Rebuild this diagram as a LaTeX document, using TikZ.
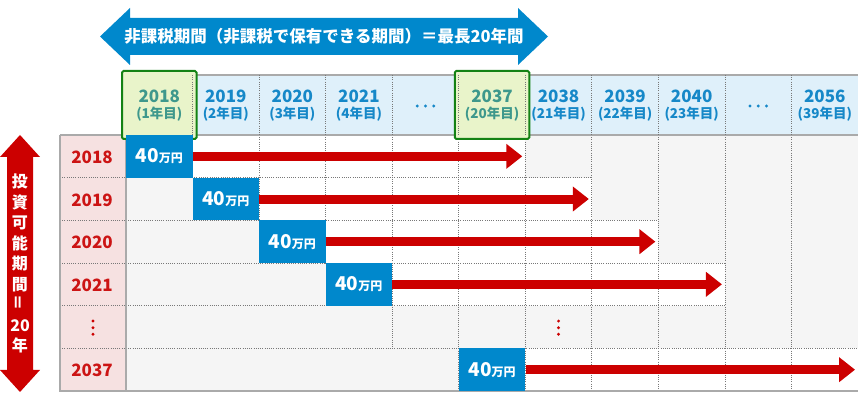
\documentclass[tikz,border=0pt]{standalone}
\usepackage{fontspec}
\setmainfont{Noto Sans CJK JP}
\usetikzlibrary{arrows.meta,positioning}

\definecolor{hdblue}{RGB}{223,240,250}
\definecolor{hdtext}{RGB}{22,136,200}
\definecolor{hlfill}{RGB}{233,244,202}
\definecolor{hlline}{RGB}{20,130,20}
\definecolor{hltext}{RGB}{62,152,140}
\definecolor{lbfill}{RGB}{246,225,225}
\definecolor{lbtext}{RGB}{204,20,20}
\definecolor{cellgrey}{RGB}{245,245,245}
\definecolor{boxblue}{RGB}{0,136,204}
\definecolor{arrred}{RGB}{204,0,0}
\definecolor{dotgrey}{RGB}{120,120,120}
\definecolor{rimgrey}{RGB}{170,170,170}

\newcommand\colw{66.55}
\newcommand\rowh{42.67}

\begin{document}
\begin{tikzpicture}[x=1pt,y=-1pt,
  hdyear/.style={inner sep=0pt,font=\bfseries\fontsize{17}{18}\selectfont},
  hdsub/.style={inner sep=0pt,font=\bfseries\fontsize{13.5}{15}\selectfont},
  hlbox/.style={draw=hlline,line width=2pt,fill=hlfill,rounded corners=1.5pt},
  yrlabel/.style={text=lbtext,inner sep=0pt,font=\bfseries\fontsize{17}{18}\selectfont},
  sepline/.style={dotgrey,line width=0.9pt,dash pattern=on 1pt off 1.2pt},
  rim/.style={rimgrey,line width=1.3pt},
  money/.style={fill=boxblue,text=white,inner sep=0pt,minimum width=\colw pt,minimum height=\rowh pt,font=\bfseries},
  flow/.style={arrred,line width=9pt,-{Triangle[length=16pt,width=24pt]}}]
\useasboundingbox (0,0) rectangle (860,395);

% table background
\fill[hdblue] (126,75) rectangle (858,135);
\fill[lbfill] (60,135) rectangle (126,391);
\fill[cellgrey] (126,135) rectangle (858,391);
\foreach \r/\s/\e in {0/0/6,1/1/7,2/2/8,3/3/9,5/5/11}
  \fill[white] (126+\s*\colw,135+\r*\rowh) rectangle (126+\e*\colw,135+\r*\rowh+\rowh);

% grid
\foreach \k/\b in {1/1,2/2,3/3,4/5,5/6,6/6,7/6,8/6,9/6,10/6}
  \draw[sepline] (126+\k*\colw,135) -- (126+\k*\colw,135+\b*\rowh);
\foreach \r/\e in {1/7,2/8,3/9,4/9,5/11}
  \draw[sepline] (60,135+\r*\rowh) -- (126+\e*\colw,135+\r*\rowh);
\draw[rim] (126,75) -- (858,75);
\draw[rim] (60,135) -- (858,135);
\draw[rim] (60,135) -- (60,391) -- (858,391);
\draw[rim] (126,135) -- (126,391);
\foreach \k in {0,5}
  \draw[hlbox] (122+\k*\colw,71) rectangle (130+\k*\colw+\colw,139);
\foreach \k in {1,...,10}
  \draw[sepline] (126+\k*\colw,75) -- (126+\k*\colw,135);

% header
\foreach \k/\yr/\n/\c in {0/2018/1/hltext,1/2019/2/hdtext,2/2020/3/hdtext,3/2021/4/hdtext,
    5/2037/20/hltext,6/2038/21/hdtext,7/2039/22/hdtext,8/2040/23/hdtext,10/2056/39/hdtext} {
  \node[hdyear,text=\c] (hd\k) at (126+\k*\colw+\colw/2,96) {\yr};
  \node[hdsub,text=\c] (sub\k) at (126+\k*\colw+\colw/2,114) {(\n{}年目)};
}
\foreach \k in {4,9}
  \foreach \d in {-8.3,0,8.3}
    \fill[hdtext] (126+\k*\colw+\colw/2+\d,106) circle (1.6);

% rows
\foreach \r/\yr in {0/2018,1/2019,2/2020,3/2021,5/2037}
  \node[yrlabel] (yr\r) at (92,135+\r*\rowh+\rowh/2+1) {\yr};
\foreach \x in {93,558.5}
  \foreach \d in {-6.6,0,6.6}
    \fill[arrred] (\x,327.7+\d) circle (1.6);

\foreach \r/\s/\e in {0/0/6,1/1/7,2/2/8,3/3/9,5/5/11} {
  \node[money] (inv\r) at (126+\s*\colw+\colw/2,135+\r*\rowh+\rowh/2)
    {{\fontsize{19}{19}\selectfont 40}{\fontsize{12}{12}\selectfont 万円}};
  \coordinate (end\r) at (126+\e*\colw-3,135+\r*\rowh+\rowh/2);
  \draw[flow] (inv\r.east) -- (end\r);
}

% span arrows
\fill[boxblue] (100,36.5) -- (130,8) -- (130,18) -- (518,18) -- (518,8) -- (548,36.5)
  -- (518,65) -- (518,55) -- (130,55) -- (130,65) -- cycle;
\node[text=white,font=\bfseries\fontsize{16.5}{18}\selectfont] (span) at (324,36.5)
  {非課税期間（非課税で保有できる期間）＝最長20年間};
\fill[arrred] (20,135) -- (40,157) -- (33,157) -- (33,370) -- (40,370) -- (20,392)
  -- (0,370) -- (7,370) -- (7,157) -- (0,157) -- cycle;
\node[text=white,align=center,font=\bfseries\fontsize{16}{20.5}\selectfont] (term) at (20,263.5)
  {投\\資\\可\\能\\期\\間\\\rotatebox{90}{＝}\\20\\年};
\end{tikzpicture}
\end{document}
